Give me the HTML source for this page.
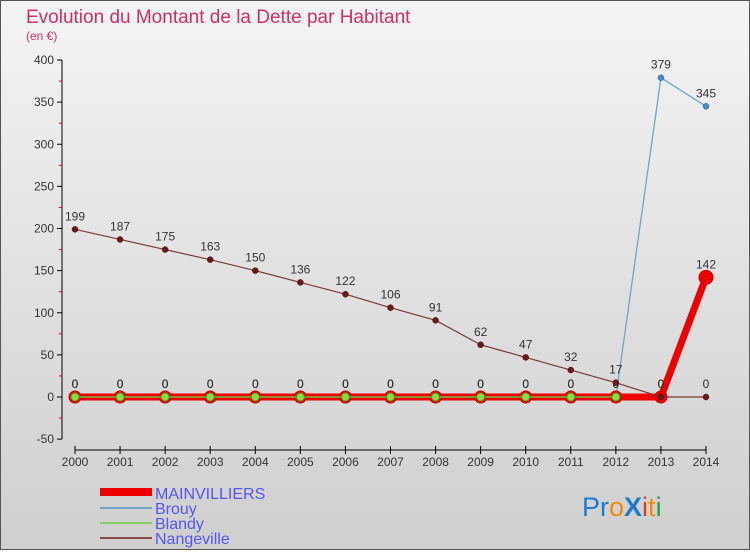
<!DOCTYPE html>
<html><head><meta charset="utf-8"><style>
body{margin:0;width:750px;height:550px;overflow:hidden;font-family:"Liberation Sans",sans-serif}
</style></head><body>
<svg id="c" width="750" height="550" xmlns="http://www.w3.org/2000/svg">
<defs><linearGradient id="bg" x1="0" y1="0" x2="0" y2="1"><stop offset="0" stop-color="#f4f4f4"/><stop offset="1" stop-color="#cfcfcf"/></linearGradient></defs>
<rect x="0.5" y="0.5" width="749" height="549" fill="url(#bg)" stroke="#555"/>
<text x="26" y="23" font-size="19" fill="#d0306a">Evolution du Montant de la Dette par Habitant</text>
<text x="26" y="40" font-size="12" fill="#d0306a">(en €)</text>
<g id="axes"></g><g id="series"></g>
<g>
<rect x="100" y="488" width="52" height="8" fill="#e00"/>
<text x="155" y="499" font-size="16" fill="#5555ee">MAINVILLIERS</text>
<line x1="100" y1="508" x2="152" y2="508" stroke="#6ea5c8" stroke-width="2"/>
<text x="155" y="514" font-size="16" fill="#5555ee">Brouy</text>
<line x1="100" y1="523" x2="152" y2="523" stroke="#88cc66" stroke-width="2"/>
<text x="155" y="529" font-size="16" fill="#5555ee">Blandy</text>
<line x1="100" y1="538" x2="152" y2="538" stroke="#8b4a4a" stroke-width="2"/>
<text x="155" y="544" font-size="16" fill="#5555ee">Nangeville</text>
</g>
<g font-size="27" font-family="'Liberation Sans',sans-serif">
<text x="582" y="516"><tspan fill="#1a7bd0">Pr</tspan><tspan fill="#f08a00">o</tspan><tspan fill="#1a7bd0" font-weight="bold">X</tspan><tspan fill="#e04010">i</tspan><tspan fill="#f08a00">t</tspan><tspan fill="#20a040">i</tspan></text>
</g>
</svg>
<script>
const years=[2000,2001,2002,2003,2004,2005,2006,2007,2008,2009,2010,2011,2012,2013,2014];
const yTicks=[-50,0,50,100,150,200,250,300,350,400];
const mainvilliers=[0,0,0,0,0,0,0,0,0,0,0,0,0,0,142];
const brouy=[0,0,0,0,0,0,0,0,0,0,0,0,0,379,345];
const blandy=[0,0,0,0,0,0,0,0,0,0,0,0,0,null,null];
const nangeville=[199,187,175,163,150,136,122,106,91,62,47,32,17,0,0];
const NS="http://www.w3.org/2000/svg";
const xS=i=>75+i*(706-75)/14;
const yS=v=>397-v*(337/400);
function mk(tag,attrs,parent){const e=document.createElementNS(NS,tag);for(const k in attrs)e.setAttribute(k,attrs[k]);parent.appendChild(e);return e;}
const ax=document.getElementById('axes');
let a=mk('line',{x1:62,y1:60,x2:62,y2:yS(-50),stroke:'#000'},ax);


yTicks.forEach(v=>{const y=yS(v);
 mk('line',{x1:57,y1:y,x2:62,y2:y,stroke:'#000'},ax);
 if(v<400)mk('line',{x1:59,y1:yS(v+25),x2:62,y2:yS(v+25),stroke:'#e00'},ax);
 const t=mk('text',{x:54,y:y+4,'font-size':12,fill:'#333','text-anchor':'end'},ax);t.textContent=v;
 
 });
a=mk('line',{x1:75,y1:450,x2:706,y2:450,stroke:'#000'},ax);


years.forEach((yr,i)=>{const x=xS(i);mk('line',{x1:x,y1:450,x2:x,y2:454,stroke:'#000'},ax);mk('line',{x1:x,y1:446,x2:x,y2:450,stroke:'#000'},ax);
 const t=mk('text',{x:x,y:466,'font-size':12,fill:'#333','text-anchor':'middle'},ax);t.textContent=yr;
 
 });
const sg=document.getElementById('series');
function series(name,data,color,w,r,fill,stroke,sw,labels){
 const g=mk('g',{},sg);
 
 
 let d='';data.forEach((v,i)=>{if(v===null)return;d+=(d?'L':'M')+xS(i)+' '+yS(v);});
 mk('path',{d:d,fill:'none',stroke:color,'stroke-width':w,'stroke-linejoin':'round'},g);
 data.forEach((v,i)=>{if(v===null)return;const c=mk('circle',{cx:xS(i),cy:yS(v),r:(name==='mainvilliers'&&i===14)?7:r,fill:fill,stroke:stroke,'stroke-width':sw},g);
  
  
  if(labels){const t=mk('text',{x:xS(i),y:yS(v)-9,'font-size':12,fill:'#333','text-anchor':'middle'},g);t.textContent=v;}});
}
series('brouy',brouy,'#6ea5c8',1.3,3,'#4a8ac0','#2a6090',0.5,true);
series('mainvilliers',mainvilliers,'#ee0000',7,6,'#ee0000','#cc0000',1,true);
series('blandy',blandy,'#77bb33',1.5,4,'#88dd44','#449922',1,true);
series('nangeville',nangeville,'#7a3a3a',1.2,3,'#6a1a1a','#4a0a0a',0.5,true);
</script>
</body></html>
